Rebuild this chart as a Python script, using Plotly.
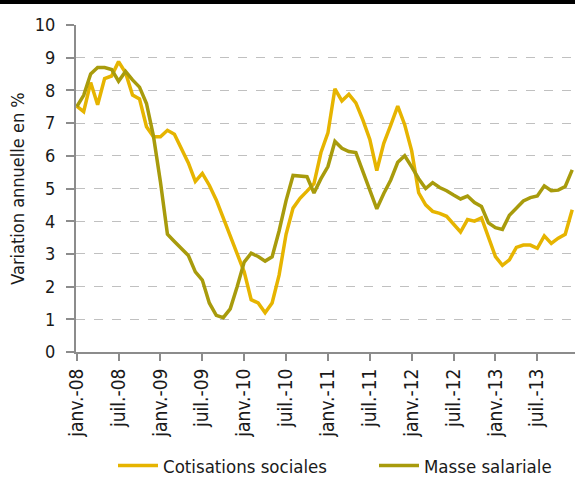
import plotly.graph_objects as go

months = list(range(72))
tick_positions = [0, 6, 12, 18, 24, 30, 36, 42, 48, 54, 60, 66]
tick_labels = ["janv.-08", "juil.-08", "janv.-09", "juil.-09", "janv.-10", "juil.-10",
               "janv.-11", "juil.-11", "janv.-12", "juil.-12", "janv.-13", "juil.-13"]

cotisations = [7.52, 7.35, 8.24, 7.56, 8.36, 8.44, 8.88, 8.54, 7.86, 7.74,
               6.89, 6.58, 6.58, 6.78, 6.66, 6.24, 5.78, 5.22, 5.46, 5.10,
               4.65, 4.10, 3.55, 3.05, 2.45, 1.60, 1.50, 1.20, 1.50, 2.35,
               3.60, 4.40, 4.70, 4.92, 5.15, 6.10, 6.70, 8.05, 7.68, 7.88,
               7.62, 7.10, 6.50, 5.55, 6.38, 6.94, 7.52, 6.95, 6.15, 4.87,
               4.50, 4.30, 4.24, 4.15, 3.92, 3.67, 4.05, 4.00, 4.10, 3.50,
               2.92, 2.65, 2.82, 3.20, 3.27, 3.27, 3.17, 3.55, 3.32, 3.48,
               3.60, 4.35]

masse = [7.50, 7.85, 8.50, 8.70, 8.70, 8.64, 8.28, 8.58, 8.32, 8.10,
         7.60, 6.60, 5.20, 3.60, 3.38, 3.18, 2.95, 2.45, 2.20, 1.50,
         1.12, 1.05, 1.32, 2.00, 2.75, 3.02, 2.92, 2.78, 2.91, 3.70,
         4.63, 5.40, 5.37, 5.36, 4.86, 5.30, 5.67, 6.44, 6.23, 6.13,
         6.10, 5.55, 5.00, 4.38, 4.85, 5.26, 5.80, 6.00, 5.66, 5.30,
         5.00, 5.18, 5.03, 4.93, 4.80, 4.68, 4.77, 4.57, 4.45, 3.95,
         3.80, 3.75, 4.18, 4.40, 4.62, 4.72, 4.77, 5.08, 4.93, 4.95,
         5.06, 5.57]

FONT = "DejaVu Sans Condensed, Liberation Sans Narrow, Roboto, sans-serif"

fig = go.Figure()
fig.add_trace(go.Scatter(x=months, y=cotisations, mode="lines", name="Cotisations sociales",
                         line=dict(color="#E6B400", width=3.5), legend="legend"))
fig.add_trace(go.Scatter(x=months, y=masse, mode="lines", name="Masse salariale",
                         line=dict(color="#A89B0C", width=3.5), legend="legend2"))

legend_common = dict(orientation="h", xanchor="left", xref="container",
                     y=0.027, yanchor="middle", yref="container",
                     font=dict(size=18.5), itemwidth=40, bgcolor="rgba(0,0,0,0)")

fig.update_layout(
    width=575, height=479,
    margin=dict(l=76, r=0, t=25, b=127, autoexpand=False),
    paper_bgcolor="white", plot_bgcolor="white",
    font=dict(family=FONT, size=18, color="#1a1a1a"),
    showlegend=True,
    legend=dict(x=113 / 575, **legend_common),
    legend2=dict(x=374 / 575, **legend_common),
    xaxis=dict(range=[-0.1, 71.4], tickmode="array", tickvals=tick_positions,
               ticktext=tick_labels, tickangle=-90, showgrid=False,
               showline=True, linecolor="#8c8c8c", linewidth=2,
               ticks="outside", ticklen=7, tickcolor="#8c8c8c", tickwidth=1.5,
               tickfont=dict(size=19), zeroline=False, automargin=False),
    yaxis=dict(range=[0, 10], dtick=1, showgrid=True, gridcolor="#c0c0c0",
               griddash="dash", gridwidth=1, showline=True, linecolor="#8c8c8c",
               linewidth=2, ticks="outside", ticklen=8, tickcolor="#8c8c8c",
               tickwidth=1.5, ticklabelstandoff=7,
               tickfont=dict(size=18), zeroline=False, automargin=False,
               title=dict(text="Variation annuelle en %", font=dict(size=18), standoff=5)),
    shapes=[dict(type="rect", xref="paper", yref="paper", x0=-0.2, x1=1.05,
                 y0=1.0642, y1=1.2, fillcolor="black", line=dict(width=0), layer="above")],
)

fig.write_html("out.html", config={"displayModeBar": False},
               post_script="document.body.style.margin='0';document.body.style.padding='0';")
